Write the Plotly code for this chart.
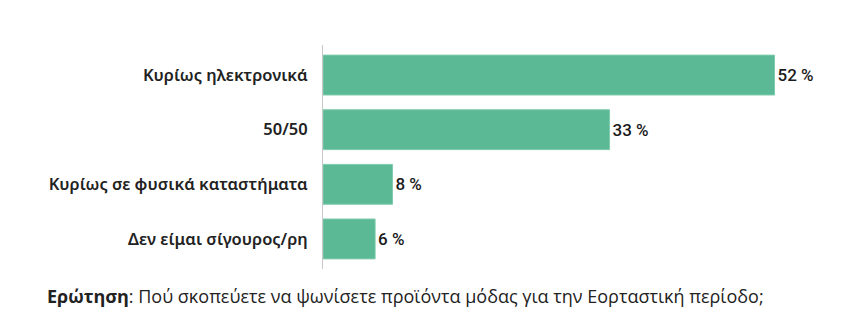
import plotly.graph_objects as go

# Survey answers and shares (%)
categories = ["Κυρίως ηλεκτρονικά", "50/50", "Κυρίως σε φυσικά καταστήματα", "Δεν είμαι σίγουρος/ρη"]
values = [52, 33, 8, 6]
value_labels = [f"{v} %" for v in values]

W, H = 854, 331
ml, mr, mt, mb = 323, 10, 45, 62
plot_w = W - ml - mr
plot_h = H - mt - mb

fig = go.Figure(
    go.Bar(
        x=values,
        y=categories,
        orientation="h",
        marker=dict(color="#5cb995", line=dict(color="#7fcbad", width=1)),
        width=0.73,
        text=value_labels,
        textposition="outside",
        textfont=dict(family="Roboto", size=17, color="#1a1a1a", weight=500),
        cliponaxis=False,
        hoverinfo="skip",
    )
)

fig.update_layout(
    width=W,
    height=H,
    margin=dict(l=ml, r=mr, t=mt, b=mb),
    paper_bgcolor="white",
    plot_bgcolor="white",
    showlegend=False,
    xaxis=dict(range=[0, 60], visible=False, fixedrange=True),
    yaxis=dict(
        categoryorder="array",
        categoryarray=categories,
        range=[3.55, -0.55],
        showline=True,
        linecolor="#c8c8c8",
        linewidth=1,
        showgrid=False,
        zeroline=False,
        ticks="",
        ticklabelstandoff=11,
        tickfont=dict(family="Noto Sans", size=16.5, color="#222222", weight=600),
    ),
    annotations=[
        dict(
            text="<b>Ερώτηση</b>: Πού σκοπεύετε να ψωνίσετε προϊόντα μόδας για την Εορταστική περίοδο;",
            xref="paper",
            yref="paper",
            x=(45 - ml) / plot_w,
            y=-27 / plot_h,
            xanchor="left",
            yanchor="middle",
            showarrow=False,
            font=dict(family="Open Sans", size=18, color="#222222"),
        )
    ],
)

fig.write_html("out.html")
